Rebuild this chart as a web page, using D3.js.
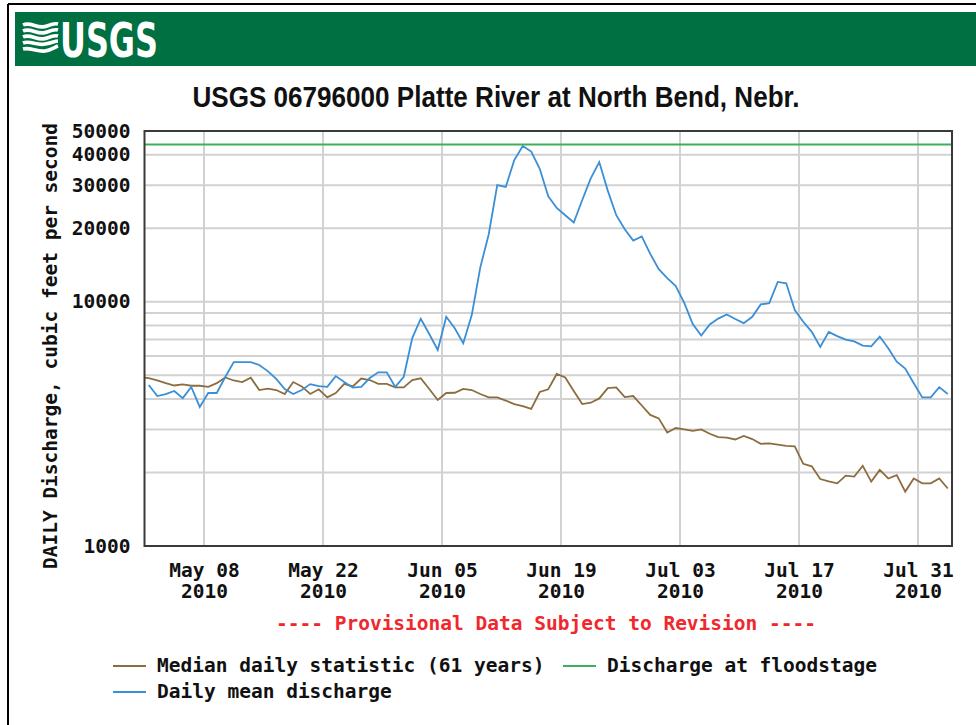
<!DOCTYPE html>
<html>
<head>
<meta charset="utf-8">
<script src="https://cdn.jsdelivr.net/npm/d3@7"></script>
<style>
  html, body { margin: 0; padding: 0; background: #fff; }
  svg { display: block; }
</style>
</head>
<body>
<svg id="chart" width="976" height="725"></svg>
<script>
// ---------------- DATA ----------------
const titleText = "USGS 06796000 Platte River at North Bend, Nebr.";
const yAxisTitle = "DAILY Discharge, cubic feet per second";
const provisionalText = "---- Provisional Data Subject to Revision ----";
const seriesNames = ["Median daily statistic (61 years)", "Discharge at floodstage", "Daily mean discharge"];

const xDomain = ["2010-05-01", "2010-08-04"];
const xTickDates = ["2010-05-08", "2010-05-22", "2010-06-05", "2010-06-19", "2010-07-03", "2010-07-17", "2010-07-31"];
const xTickLabels = ["May 08", "May 22", "Jun 05", "Jun 19", "Jul 03", "Jul 17", "Jul 31"];
const xTickYear = "2010";

const yDomain = [1000, 50000];
const yTickValues = [1000, 10000, 20000, 30000, 40000, 50000];
const yGridValues = [2000, 3000, 4000, 5000, 6000, 7000, 8000, 9000, 10000, 20000, 30000, 40000];

const floodstage = 44000;

// daily mean discharge, one value per day starting 2010-05-01
const meanStart = "2010-05-01";
const dailyMean = [
  4560, 4110, 4190, 4310, 4030, 4480, 3710, 4230, 4230, 4920,
  5660, 5660, 5660, 5510, 5200, 4830, 4390, 4190, 4350, 4600,
  4510, 4480, 4960, 4690, 4450, 4480, 4870, 5140, 5140, 4480,
  4930, 7100, 8520, 7380, 6350, 8680, 7790, 6760, 8820, 13800,
  18900, 30000, 29500, 38000, 43400, 41200, 35000, 27000, 24200, 22600,
  21100, 26100, 32000, 37300, 28500, 22600, 19800, 17800, 18500, 15700,
  13600, 12500, 11600, 9900, 8100, 7270, 8070, 8530, 8870, 8500,
  8170, 8680, 9750, 9870, 12050, 11900, 9250, 8280, 7530, 6530,
  7530, 7230, 7000, 6880, 6610, 6570, 7200, 6450, 5680, 5330,
  4640, 4060, 4060, 4470, 4190
];

// median daily statistic, one value per day starting 2010-04-30
const medianStart = "2010-04-30";
const medianDaily = [
  4910,
  4870, 4760, 4640, 4540, 4590, 4530, 4530, 4480, 4640, 4900,
  4760, 4690, 4890, 4350, 4410, 4350, 4190, 4690, 4500, 4190,
  4380, 4060, 4230, 4610, 4500, 4850, 4780, 4610, 4610, 4460,
  4460, 4780, 4860, 4390, 3960, 4230, 4240, 4400, 4350, 4190,
  4060, 4060, 3940, 3810, 3740, 3640, 4270, 4380, 5060, 4900,
  4310, 3810, 3860, 4020, 4430, 4460, 4070, 4110, 3760, 3440,
  3330, 2915, 3040, 3000, 2960, 3000, 2880, 2790, 2780, 2730,
  2820, 2740, 2620, 2630, 2600, 2570, 2560, 2170, 2120, 1880,
  1840, 1805, 1940, 1925, 2130, 1835, 2050, 1890, 1950, 1670,
  1890, 1805, 1805, 1890, 1720
];

// ---------------- STYLE ----------------
const C = {
  banner: "#006f41",
  mean: "#3a8fd6",
  median: "#8c6d3f",
  flood: "#3fae5c",
  grid: "#d2d2d2",
  frame: "#3a3a3a",
  red: "#f0282d",
  text: "#111"
};
const MONO = "'DejaVu Sans Mono', monospace";

const svg = d3.select("#chart");
const W = 976, H = 725;
const plot = { left: 144.5, right: 952, top: 131, bottom: 546 };

// outer frame
svg.append("line").attr("x1", 8).attr("x2", W).attr("y1", 4).attr("y2", 4)
  .attr("stroke", "#000").attr("stroke-width", 2);
svg.append("line").attr("x1", 8).attr("x2", 8).attr("y1", 4).attr("y2", H)
  .attr("stroke", "#000").attr("stroke-width", 2);

// banner
svg.append("rect").attr("x", 15).attr("y", 12).attr("width", W - 15).attr("height", 54)
  .attr("fill", C.banner);

// logo symbol (stylised waves)
const logo = svg.append("g").attr("fill", "none").attr("stroke", "#fff").attr("stroke-linecap", "butt");
const wavePaths = [
  "M23,25 C31,21 38,30 47,26 C52,24 55,23 58,24",
  "M23,31 C31,27 38,36 47,32 C52,30 55,29 58,30",
  "M23,37 C31,33 38,42 47,38 C52,36 55,35 58,36",
  "M23,43 C30,40 37,46 45,44 C51,43 55,41 58,41",
  "M23,49 C30,47 37,52 45,51 C51,50 55,47 58,46"
];
wavePaths.forEach(p => logo.append("path").attr("d", p).attr("stroke-width", 3.6));
svg.append("text").attr("x", 60).attr("y", 57)
  .attr("font-family", "'DejaVu Sans', sans-serif").attr("font-weight", "bold")
  .attr("font-size", 48).attr("fill", "#fff")
  .attr("textLength", 98).attr("lengthAdjust", "spacingAndGlyphs")
  .text("USGS");

// title
svg.append("text").attr("x", 496).attr("y", 107).attr("text-anchor", "middle")
  .attr("font-family", "'Liberation Sans', Arial, sans-serif").attr("font-weight", "bold")
  .attr("font-size", 29).attr("fill", C.text)
  .attr("textLength", 607).attr("lengthAdjust", "spacingAndGlyphs")
  .text(titleText);

// scales
const parse = d3.utcParse("%Y-%m-%d");
const x = d3.scaleUtc().domain(xDomain.map(parse)).range([plot.left, plot.right]);
const y = d3.scaleLog().domain(yDomain).range([plot.bottom, plot.top]);

// clip
svg.append("clipPath").attr("id", "clip").append("rect")
  .attr("x", plot.left).attr("y", plot.top)
  .attr("width", plot.right - plot.left).attr("height", plot.bottom - plot.top);

// grid
const grid = svg.append("g");
grid.selectAll("line.h").data(yGridValues).join("line")
  .attr("x1", plot.left).attr("x2", plot.right)
  .attr("y1", d => y(d)).attr("y2", d => y(d))
  .attr("stroke", C.grid).attr("stroke-width", 2);
grid.selectAll("line.v").data(xTickDates).join("line")
  .attr("x1", d => x(parse(d))).attr("x2", d => x(parse(d)))
  .attr("y1", plot.top).attr("y2", plot.bottom)
  .attr("stroke", C.grid).attr("stroke-width", 2);

// series
const noon = (start, i) => d3.utcHour.offset(d3.utcDay.offset(parse(start), i), 12);
const line = d3.line().x(d => x(d.date)).y(d => y(d.value));
const meanData = dailyMean.map((v, i) => ({ date: noon(meanStart, i), value: v }));
const medianData = medianDaily.map((v, i) => ({ date: noon(medianStart, i), value: v }));

const lines = svg.append("g").attr("clip-path", "url(#clip)").attr("fill", "none");
lines.append("path").datum(medianData).attr("d", line)
  .attr("stroke", C.median).attr("stroke-width", 1.8);
lines.append("path").datum(meanData).attr("d", line)
  .attr("stroke", C.mean).attr("stroke-width", 1.8);
lines.append("line").attr("x1", plot.left).attr("x2", plot.right)
  .attr("y1", y(floodstage)).attr("y2", y(floodstage))
  .attr("stroke", C.flood).attr("stroke-width", 2);

// frame
svg.append("rect").attr("x", plot.left).attr("y", plot.top)
  .attr("width", plot.right - plot.left).attr("height", plot.bottom - plot.top)
  .attr("fill", "none").attr("stroke", C.frame).attr("stroke-width", 2);

// y axis labels
const yAxis = d3.axisLeft(y).tickValues(yTickValues).tickFormat(d3.format("d")).tickSize(0).tickPadding(14);
const yg = svg.append("g").attr("transform", `translate(${plot.left},0)`).call(yAxis);
yg.select(".domain").remove();
yg.selectAll("text").attr("font-family", MONO).attr("font-weight", "bold")
  .attr("font-size", 19.5).attr("fill", C.text);

// x axis labels
const xAxis = d3.axisBottom(x).tickValues(xTickDates.map(parse)).tickSize(0).tickFormat("");
const xg = svg.append("g").attr("transform", `translate(0,${plot.bottom})`).call(xAxis);
xg.select(".domain").remove();
xg.selectAll(".tick").each(function (d, i) {
  const t = d3.select(this).append("text").attr("fill", C.text)
    .attr("font-family", MONO).attr("font-weight", "bold").attr("font-size", 19.5)
    .attr("text-anchor", "middle");
  t.append("tspan").attr("x", 0).attr("y", 31).text(xTickLabels[i]);
  t.append("tspan").attr("x", 0).attr("y", 52).text(xTickYear);
});

// y axis title
svg.append("text").attr("transform", "translate(57,346) rotate(-90)")
  .attr("text-anchor", "middle").attr("font-family", MONO).attr("font-weight", "bold")
  .attr("font-size", 19.5).attr("fill", C.text).text(yAxisTitle);

// provisional note
svg.append("text").attr("x", 546).attr("y", 630).attr("text-anchor", "middle")
  .attr("font-family", MONO).attr("font-weight", "bold").attr("font-size", 19.5).attr("fill", C.red)
  .text(provisionalText);

// legend
const legendItems = [
  { name: seriesNames[0], color: C.median, x: 113, y: 666 },
  { name: seriesNames[1], color: C.flood, x: 563, y: 666 },
  { name: seriesNames[2], color: C.mean, x: 113, y: 692 }
];
const lg = svg.append("g");
legendItems.forEach(it => {
  lg.append("line").attr("x1", it.x).attr("x2", it.x + 33).attr("y1", it.y).attr("y2", it.y)
    .attr("stroke", it.color).attr("stroke-width", 2);
  lg.append("text").attr("x", it.x + 44).attr("y", it.y + 6)
    .attr("font-family", MONO).attr("font-weight", "bold").attr("font-size", 19.5)
    .attr("fill", C.text).text(it.name);
});
</script>
</body>
</html>
